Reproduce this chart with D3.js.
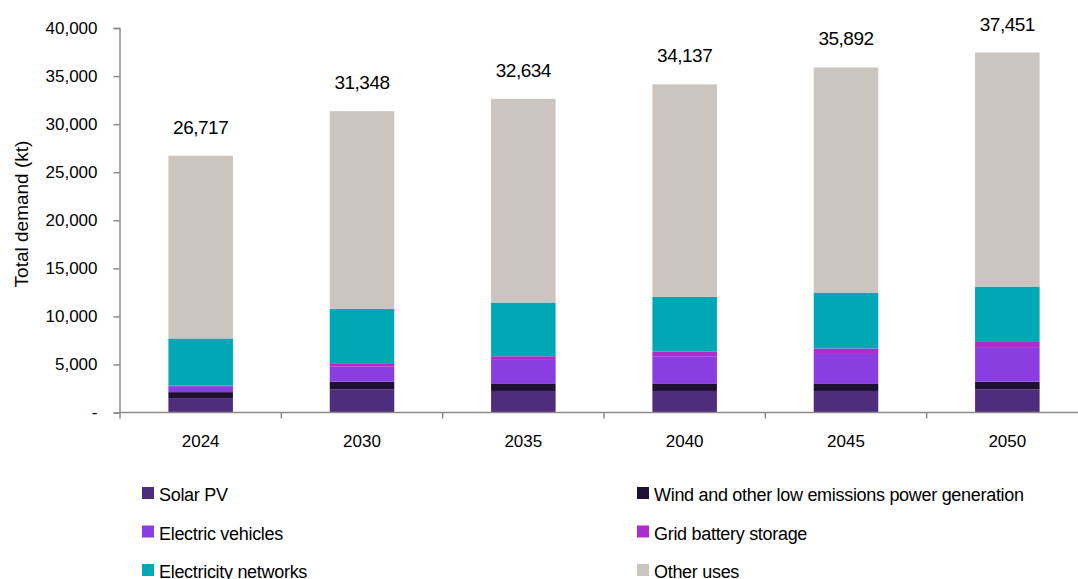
<!DOCTYPE html>
<html>
<head>
<meta charset="utf-8">
<script src="https://cdn.jsdelivr.net/npm/d3@7"></script>
<style>
  html, body { margin: 0; padding: 0; background: #fff; overflow: hidden; }
  svg { display: block; font-family: "Liberation Sans", Arial, sans-serif; }
</style>
</head>
<body>
<svg id="chart" width="1078" height="579"></svg>
<script>
// Years on the category axis
const years = ["2024", "2030", "2035", "2040", "2045", "2050"];

// Demand by end use (kt)
const solarPV      = [1500, 2420, 2240, 2240, 2240, 2420];
const windOther    = [620, 790, 730, 730, 730, 790];
const electricVeh  = [620, 1560, 2500, 2880, 3120, 3510];
const gridBattery  = [60, 280, 380, 480, 560, 620];
const elecNetworks = [4900, 5730, 5590, 5700, 5830, 5760];
const otherUses    = [19017, 20568, 21194, 22107, 23412, 24351];

// Stated totals shown above each bar
const totals = [26717, 31348, 32634, 34137, 35892, 37451];

const yTicks = [0, 5000, 10000, 15000, 20000, 25000, 30000, 35000, 40000];

const seriesNames = ["Solar PV", "Wind and other low emissions power generation",
  "Electric vehicles", "Grid battery storage", "Electricity networks", "Other uses"];
const seriesColors = ["#4e2e7c", "#1e1033", "#8a3de0", "#ae2ccb", "#00a7b4", "#ccc4be"];
const seriesValues = [solarPV, windOther, electricVeh, gridBattery, elecNetworks, otherUses];

const rows = years.map((yr, i) => {
  const r = { year: yr };
  seriesNames.forEach((s, k) => { r[s] = seriesValues[k][i]; });
  return r;
});

const svg = d3.select("#chart");
const axisColor = "#8c8c8c";

const x = d3.scaleBand().domain(years).range([120, 1088]).paddingInner(0).paddingOuter(0);
const y = d3.scaleLinear().domain([0, 40000]).range([412.5, 28]);
const barW = x.bandwidth() * 0.4;

const stack = d3.stack().keys(seriesNames);
const layers = stack(rows);

// Stacked bars
svg.append("g").selectAll("g")
  .data(layers)
  .join("g")
  .attr("fill", (d, i) => seriesColors[i])
  .selectAll("rect")
  .data(d => d)
  .join("rect")
  .attr("x", d => x(d.data.year) + (x.bandwidth() - barW) / 2)
  .attr("width", barW)
  .attr("y", d => y(d[1]))
  .attr("height", d => y(d[0]) - y(d[1]));

// Y axis
const yAxis = svg.append("g")
  .attr("transform", "translate(119.5,0)")
  .call(d3.axisLeft(y).tickValues(yTicks).tickSize(6).tickPadding(16)
    .tickFormat(v => v === 0 ? "-" : d3.format(",")(v)));
yAxis.select(".domain").attr("stroke", axisColor).attr("stroke-width", 1.5);
yAxis.selectAll(".tick line").attr("stroke", axisColor).attr("stroke-width", 1.5);
yAxis.selectAll(".tick text").attr("fill", "#000").attr("font-size", 17)
  .attr("font-family", "Liberation Sans, Arial, sans-serif");

// X axis: line along zero with ticks at category boundaries
const xg = svg.append("g");
xg.append("line")
  .attr("x1", 119.5).attr("x2", 1088)
  .attr("y1", y(0)).attr("y2", y(0))
  .attr("stroke", axisColor).attr("stroke-width", 1.5);
const bounds = years.map(yr => x(yr)).concat([x(years[years.length - 1]) + x.bandwidth()]);
xg.selectAll("line.tick")
  .data(bounds)
  .join("line")
  .attr("class", "tick")
  .attr("x1", d => d).attr("x2", d => d)
  .attr("y1", y(0)).attr("y2", y(0) + 6)
  .attr("stroke", axisColor).attr("stroke-width", 1.5);
xg.selectAll("text")
  .data(years)
  .join("text")
  .attr("x", d => x(d) + x.bandwidth() / 2)
  .attr("y", y(0) + 34)
  .attr("text-anchor", "middle")
  .attr("font-size", 17)
  .text(d => d);

// Totals above bars
svg.append("g").selectAll("text")
  .data(years)
  .join("text")
  .attr("x", d => x(d) + x.bandwidth() / 2)
  .attr("y", (d, i) => y(totals[i]) - 22)
  .attr("text-anchor", "middle")
  .attr("font-size", 19)
  .attr("letter-spacing", -0.5)
  .text((d, i) => d3.format(",")(totals[i]));

// Y axis title
svg.append("text")
  .attr("transform", "translate(28,214) rotate(-90)")
  .attr("text-anchor", "middle")
  .attr("font-size", 19)
  .text("Total demand (kt)");

// Legend in two columns
const legend = svg.append("g");
const legItems = legend.selectAll("g")
  .data(seriesNames)
  .join("g")
  .attr("transform", (d, i) => `translate(${i % 2 === 0 ? 142 : 637},${487 + Math.floor(i / 2) * 38.5})`);
legItems.append("rect")
  .attr("width", 12).attr("height", 12)
  .attr("fill", (d, i) => seriesColors[i]);
legItems.append("text")
  .attr("x", 17)
  .attr("y", 14)
  .attr("font-size", 18)
  .attr("letter-spacing", -0.3)
  .text(d => d);
</script>
</body>
</html>
